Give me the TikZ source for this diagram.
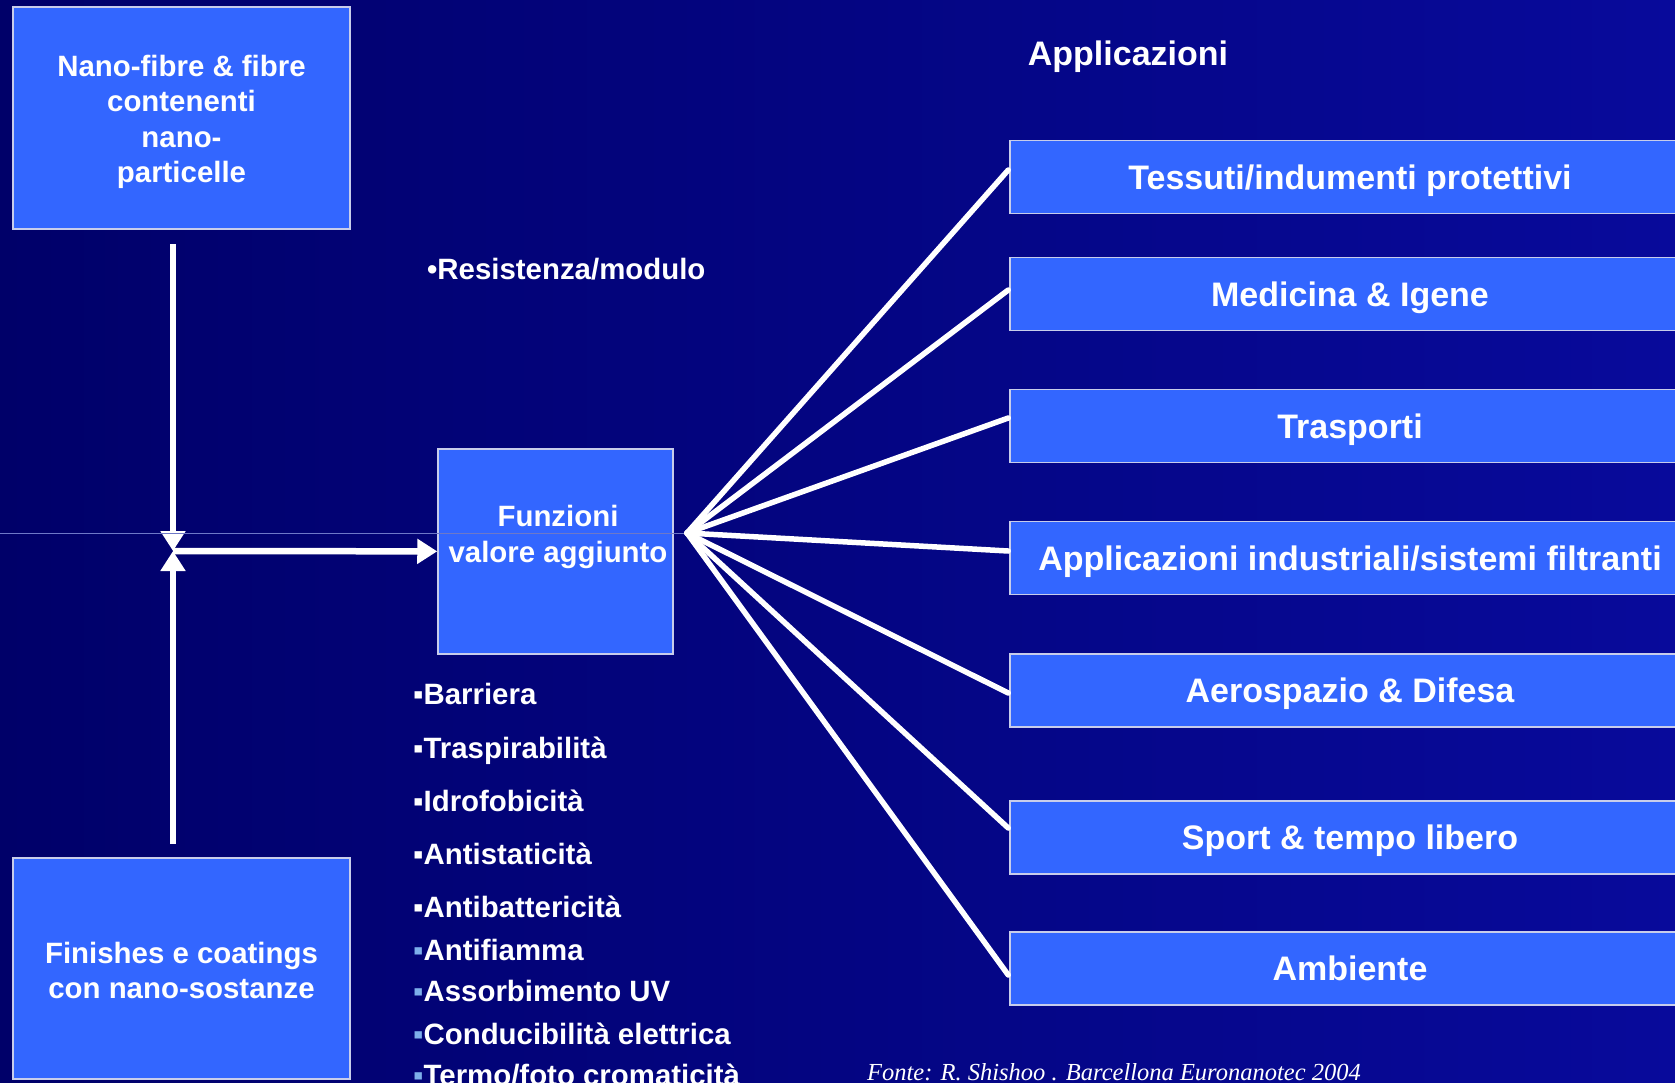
\documentclass[tikz,border=0pt]{standalone}
\usepackage{fontspec}
\setmainfont{Liberation Sans}
\newfontfamily\fontefont{Liberation Serif}
\usetikzlibrary{positioning,arrows.meta}

\definecolor{bgdark}{RGB}{0,0,105}
\definecolor{bglight}{RGB}{8,10,155}
\definecolor{boxblue}{RGB}{51,102,255}
\definecolor{boxedge}{RGB}{200,205,235}
\definecolor{bulletblue}{RGB}{125,175,235}
\definecolor{hairline}{RGB}{110,120,200}

\tikzset{
  bluebox/.style={draw=boxedge, line width=1.5pt, fill=boxblue, text=white,
    font=\bfseries\fontsize{29.4}{35.3}\selectfont, align=center, inner sep=0pt},
  boxtext/.style={text=white, font=\bfseries\fontsize{29.4}{35.3}\selectfont,
    align=center, inner sep=0pt},
  appbox/.style={bluebox, minimum width=680pt, minimum height=73pt,
    font=\bfseries\fontsize{34}{40}\selectfont, text height=24pt, text depth=0pt},
  feature/.style={text=white, font=\bfseries\fontsize{29.4}{35}\selectfont,
    anchor=base west, inner sep=0pt},
  fanline/.style={white, line width=5.5pt, line cap=round},
  bigarrow/.style={white, line width=6.5pt, -{Triangle[length=20pt,width=24pt]}},
}

\begin{document}
\begin{tikzpicture}[x=1pt,y=-1pt]
  \useasboundingbox (0,0) rectangle (1675,1082);
  \clip (0,0) rectangle (1675,1082);
  \shade[left color=bgdark, right color=bglight] (0,0) rectangle (1675,1082);

  % left column
  \node[bluebox, minimum width=337pt, minimum height=222pt] (nano) at (181.5,118) {};
  \node[boxtext] (nanotxt) at ([yshift=-4pt]nano.center)
    {Nano-fibre \& fibre\\contenenti\\nano-\\particelle};
  \node[bluebox, minimum width=337pt, minimum height=221pt] (finish) at (181.5,968.5) {};
  \node[boxtext] (finishtxt) at ([yshift=-2pt]finish.center)
    {Finishes e coatings\\con nano-sostanze};

  % centre
  \node[bluebox, minimum width=235pt, minimum height=205pt] (funz) at (555.5,551.5) {};
  \node[boxtext] (funztxt) at (558,537) {Funzioni\\valore aggiunto};

  \coordinate (vtop) at (173,244);
  \coordinate (vbot) at (173,844);
  \coordinate (meet) at (173,551);
  \draw[bigarrow] (vtop) -- (meet);
  \draw[bigarrow] (vbot) -- (meet);
  \draw[bigarrow] (meet) -- (funz);

  \node[feature] (res) at (427,279) {•Resistenza/modulo};

  \node[feature] (f1) at (413,704) {▪Barriera};
  \node[feature] (f2) at (413,758) {▪Traspirabilità};
  \node[feature] (f3) at (413,811) {▪Idrofobicità};
  \node[feature] (f4) at (413,864) {▪Antistaticità};
  \node[feature] (f5) at (413,917) {▪Antibattericità};
  \node[feature] (f6) at (413,960) {{\color{bulletblue}▪}Antifiamma};
  \node[feature] (f7) at (413,1001) {{\color{bulletblue}▪}Assorbimento UV};
  \node[feature] (f8) at (413,1044) {{\color{bulletblue}▪}Conducibilità elettrica};
  \node[feature] (f9) at (413,1085) {{\color{bulletblue}▪}Termo/foto cromaticità};

  % applications
  \node[boxtext, font=\bfseries\fontsize{34}{40}\selectfont] (title) at (1128,57) {Applicazioni};

  \node[appbox] (app1) at (1350,177) {Tessuti/indumenti protettivi};
  \node[appbox] (app2) at (1350,294) {Medicina \& Igene};
  \node[appbox] (app3) at (1350,426) {Trasporti};
  \node[appbox] (app4) at (1350,558) {Applicazioni industriali/sistemi filtranti};
  \node[appbox] (app5) at (1350,690.5) {Aerospazio \& Difesa};
  \node[appbox] (app6) at (1350,837.5) {Sport \& tempo libero};
  \node[appbox] (app7) at (1350,968.5) {Ambiente};

  \coordinate (hub) at (687,533);
  \coordinate (edge) at (0,533);
  \draw[hairline, line width=0.8pt] (edge) -- (hub);
  \foreach \n/\dy in {1/7,2/4,3/8,4/7,5/-2.5,6/9.5,7/-6.5}
    \draw[fanline] (hub) -- ([yshift=\dy pt, xshift=-1pt]app\n.west);

  \node[text=white, font=\fontefont\itshape\fontsize{24.5}{29}\selectfont,
    anchor=base west, inner sep=0pt] (fonte) at (867,1080)
    {Fonte: R. Shishoo . Barcellona Euronanotec 2004};
\end{tikzpicture}
\end{document}
